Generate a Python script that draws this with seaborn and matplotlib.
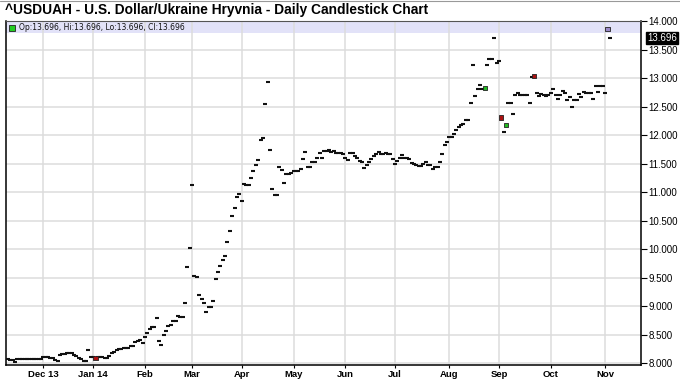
import matplotlib
matplotlib.use("Agg")
import matplotlib.pyplot as plt
import matplotlib.transforms as mtransforms
from matplotlib.patches import Rectangle
import numpy as np
import pandas as pd
import seaborn as sns

title = "^USDUAH - U.S. Dollar/Ukraine Hryvnia - Daily Candlestick Chart"
start_date = "2013-11-11"
holidays = ["2013-12-25", "2014-01-01"]

closes = [
    8.075, 8.06, 8.05, 8.02, 8.07,
    8.075, 8.075, 8.075, 8.075, 8.075, 8.075, 8.075, 8.075, 8.075, 8.075,
    8.11, 8.10, 8.10, 8.08, 8.08, 8.05, 8.03,
    8.14, 8.15, 8.16, 8.17, 8.18, 8.17, 8.14, 8.12, 8.09, 8.07, 8.04, 8.04, 8.22, 8.10,
    8.10, 8.09, 8.10, 8.10, 8.11, 8.09, 8.09, 8.12, 8.18, 8.20, 8.22, 8.24,
    8.25, 8.26, 8.27, 8.27, 8.29, 8.30, 8.37, 8.38, 8.40, 8.35, 8.45,
    8.53, 8.60, 8.64, 8.64, 8.79, 8.39, 8.31, 8.49, 8.57, 8.65, 8.66, 8.74, 8.74, 8.82, 8.81, 8.80,
    9.06, 9.68, 10.02, 11.13, 9.53, 9.51, 9.20, 9.12, 9.05, 8.89, 8.99, 8.99, 9.09, 9.47, 9.59,
    9.70, 9.80, 9.87, 10.13, 10.32, 10.58, 10.72, 10.92, 10.97, 10.85,
    11.14, 11.12, 11.12, 11.24, 11.36, 11.47, 11.57, 11.92, 11.94, 12.54, 12.93,
    11.74, 11.06, 10.95, 10.94, 11.44, 11.39, 11.15, 11.31, 11.31, 11.33, 11.37, 11.37, 11.37,
    11.40, 11.58, 11.70, 11.44, 11.44, 11.52, 11.52, 11.59, 11.69, 11.59, 11.72, 11.72, 11.73,
    11.70, 11.72, 11.69, 11.69, 11.68, 11.67, 11.60,
    11.56, 11.69, 11.69, 11.64, 11.60, 11.54, 11.53, 11.42, 11.47, 11.52, 11.58, 11.63, 11.67,
    11.71, 11.66, 11.67, 11.68, 11.66, 11.66, 11.58,
    11.50, 11.55, 11.60, 11.65, 11.59, 11.59, 11.58, 11.51, 11.49, 11.47, 11.46, 11.46, 11.49,
    11.53, 11.47, 11.47, 11.40, 11.43, 11.43, 11.53, 11.66, 11.82, 11.87, 11.96,
    11.97, 12.02, 12.08, 12.14, 12.17, 12.20, 12.26, 12.26, 12.57, 13.23, 12.68, 12.80, 12.88,
    12.80, 12.82, 13.23, 13.33, 13.33, 13.70, 13.26, 13.29,
    12.31, 12.06, 12.18, 12.57, 12.56, 12.37, 12.70, 12.74, 12.70, 12.70, 12.70, 12.70, 12.57,
    13.01, 13.04, 12.73, 12.68,
    12.72, 12.70, 12.69, 12.71, 12.73, 12.81, 12.70, 12.64, 12.71, 12.78, 12.74, 12.61, 12.66,
    12.49, 12.61, 12.61, 12.72, 12.66, 12.75, 12.74, 12.73, 12.73, 12.63, 12.86, 12.76, 12.86,
    12.86, 12.73, 13.86, 13.696,
]

up_days = ["2014-08-22", "2014-09-04"]
down_days = ["2014-01-03", "2014-09-02", "2014-09-22"]
marked_days = ["2014-11-04"]

quote_labels = ["Op", "Hi", "Lo", "Cl"]
quote_values = [13.696, 13.696, 13.696, 13.696]
last_price = 13.696

y_ticks = [8.0, 8.5, 9.0, 9.5, 10.0, 10.5, 11.0, 11.5, 12.0, 12.5, 13.0, 13.5, 14.0]
month_labels = ["Dec 13", "Jan 14", "Feb", "Mar", "Apr", "May", "Jun", "Jul",
                "Aug", "Sep", "Oct", "Nov"]

# ---- build the frame ----
bdays = pd.bdate_range(start_date, periods=len(closes) + 10)
bdays = bdays[~bdays.isin(pd.to_datetime(holidays))][: len(closes)]
df = pd.DataFrame({"date": bdays, "close": closes})
df["idx"] = np.arange(len(df))
df["kind"] = "flat"
df.loc[df["date"].isin(pd.to_datetime(up_days)), "kind"] = "up"
df.loc[df["date"].isin(pd.to_datetime(down_days)), "kind"] = "down"
df.loc[df["date"].isin(pd.to_datetime(marked_days)), "kind"] = "marked"

month_key = df["date"].dt.to_period("M")
month_starts = df.groupby(month_key)["idx"].min().values[1:]

sns.set_theme(style="white")
plt.rcParams["font.family"] = ["Liberation Sans", "DejaVu Sans"]

W, H = 680, 381
fig = plt.figure(figsize=(W / 100, H / 100), dpi=100)
L, R, T, B = 6, 641, 21, 365
ax = fig.add_axes([L / W, 1 - B / H, (R - L) / W, (B - T) / H])

x_per_px = 1 / 2.36
ax.set_xlim(-0.85, -0.85 + (R - L) * x_per_px)
ax.set_ylim(7.965, 14.0)

# legend band at top
ax.axhspan(13.79, 14.0, color="#e2e2f8", zorder=0, lw=0)

# grid
for v in y_ticks:
    ax.axhline(v, color="#dcdcdc", lw=1.1, zorder=0.5)
for m in month_starts:
    ax.axvline(m, color="#dcdcdc", lw=1.1, zorder=0.5)

flat = df[df["kind"] == "flat"]
sns.scatterplot(data=flat, x="idx", y="close", marker="_", s=10, color="#111111",
                linewidth=1.5, ax=ax, legend=False, zorder=3)

boxes = df[df["kind"] != "flat"]
sns.scatterplot(data=boxes, x="idx", y="close", hue="kind", marker="s", s=10,
                palette={"up": "#22bb22", "down": "#aa1111", "marked": "#9a88c8"},
                edgecolor="#222222", linewidth=0.6, ax=ax, legend=False, zorder=4)

# axes styling
for side in ["left", "bottom", "right"]:
    ax.spines[side].set_color("black")
    ax.spines[side].set_linewidth(1.1)
ax.spines["top"].set_color("#555555")
ax.spines["top"].set_linewidth(0.8)

ax.yaxis.tick_right()
ax.set_yticks(y_ticks)
ax.set_yticklabels([f"{v:.3f}" for v in y_ticks], fontsize=7)
ax.tick_params(axis="y", which="both", right=True, left=False, length=4, width=0.8,
               pad=1.5, colors="black")
ax.set_xticks(month_starts)
ax.set_xticklabels(month_labels, fontsize=6.8, fontweight="bold")
ax.tick_params(axis="x", bottom=True, length=2.5, width=0.8, pad=1.2, colors="black")
ax.set_xlabel("")
ax.set_ylabel("")

# last price box on right axis
trans = mtransforms.blended_transform_factory(ax.transAxes, ax.transData)
ax.text(1.0 + 6 / (R - L), last_price, f"{last_price:.3f}", transform=trans,
        fontsize=7, color="white", va="center", ha="left",
        bbox=dict(boxstyle="square,pad=0.12", fc="black", ec="black"), zorder=10,
        clip_on=False)

# quote legend marker and text inside band
fig.add_artist(Rectangle((9 / W, 1 - 30.5 / H), 6 / W, 6 / H, transform=fig.transFigure,
                         fc="#22cc22", ec="#222222", lw=0.6))
quote_text = ", ".join(f"{k}:{v:.3f}" for k, v in zip(quote_labels, quote_values))
fig.text(19 / W, 1 - 27.5 / H, quote_text, fontsize=5.5, va="center", ha="left",
         color="#111111", family=["DejaVu Sans"])

fig.text(5 / W, 1 - 10 / H, title, fontsize=9.9, fontweight="bold", va="center",
         ha="left", color="black")

fig.add_artist(plt.Line2D([0, 1], [1 - 1 / H, 1 - 1 / H], color="#999999", lw=0.8,
                          transform=fig.transFigure))

fig.savefig("out.png", dpi=100)
